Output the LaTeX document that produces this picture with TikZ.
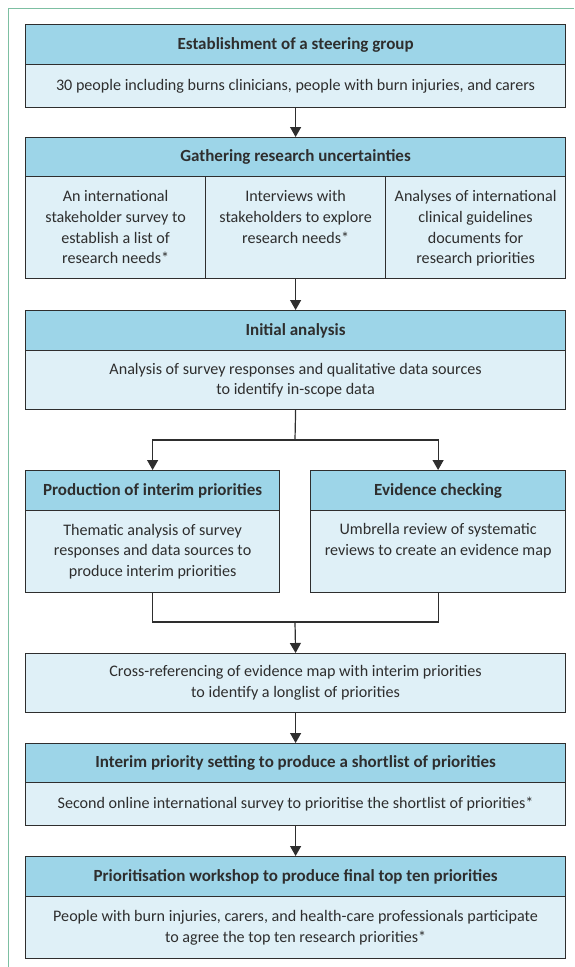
\documentclass[tikz,border=0pt]{standalone}
\usepackage{fontspec}
\setmainfont{Carlito}
\usetikzlibrary{arrows.meta}
\definecolor{hdrfill}{HTML}{9DD5E8}
\definecolor{bodyfill}{HTML}{DFF0F7}
\definecolor{edge}{HTML}{2E2E2E}
\definecolor{frame}{HTML}{7DBFA2}
\tikzset{
  boxline/.style={draw=edge, line width=1.2pt},
  hdr/.style={boxline, fill=hdrfill, anchor=north west, inner sep=0pt, font=\fontsize{17}{20.7}\selectfont\bfseries, text=edge},
  bdy/.style={boxline, fill=bodyfill, anchor=north west, inner sep=0pt},
  txt/.style={align=center, inner sep=0pt, font=\fontsize{16.1}{20.7}\selectfont, text=edge},
  conn/.style={draw=edge, line width=1.2pt},
  arr/.style={conn, -{Triangle[width=11pt,length=10pt]}},
}
\begin{document}
\begin{tikzpicture}[x=1pt,y=-1pt]
\useasboundingbox (0,0) rectangle (574,967);
\draw[frame, line width=1pt] (8.5,967) -- (8.5,8.5) -- (574,8.5);
% Box 1
\node[hdr, minimum width=540pt, minimum height=40pt] (h1) at (25,24) {Establishment of a steering group};
\node[bdy, minimum width=540pt, minimum height=43pt] (b1) at (25,64) {};
\node[txt] (t1) at (b1.center) {30 people including burns clinicians, people with burn injuries, and carers};
% Box 2
\node[hdr, minimum width=540pt, minimum height=39pt] (h2) at (25,137) {Gathering research uncertainties};
\node[bdy, minimum width=180pt, minimum height=102pt] (c1) at (25,176) {};
\node[bdy, minimum width=180pt, minimum height=102pt] (c2) at (205,176) {};
\node[bdy, minimum width=180pt, minimum height=102pt] (c3) at (385,176) {};
\node[txt, anchor=north] (t2a) at ([yshift=-14.5pt]c1.north) {An international\\stakeholder survey to\\establish a list of\\research needs*};
\node[txt, anchor=north] (t2b) at ([yshift=-14.5pt]c2.north) {Interviews with\\stakeholders to explore\\research needs*};
\node[txt, anchor=north] (t2c) at ([yshift=-14.5pt]c3.north) {Analyses of international\\clinical guidelines\\documents for\\research priorities};
% Box 3
\node[hdr, minimum width=540pt, minimum height=40pt] (h3) at (25,310) {Initial analysis};
\node[bdy, minimum width=540pt, minimum height=59pt] (b3) at (25,350) {};
\node[txt] (t3) at (b3.center) {Analysis of survey responses and qualitative data sources\\to identify in-scope data};
% Left and right boxes
\node[hdr, minimum width=254pt, minimum height=40pt] (h4) at (25,470) {Production of interim priorities};
\node[bdy, minimum width=254pt, minimum height=82pt] (b4) at (25,510) {};
\node[txt] (t4) at (b4.center) {Thematic analysis of survey\\responses and data sources to\\produce interim priorities};
\node[hdr, minimum width=255pt, minimum height=40pt] (h5) at (310,470) {Evidence checking};
\node[bdy, minimum width=255pt, minimum height=82pt] (b5) at (310,510) {};
\node[txt, anchor=north] (t5) at ([yshift=-13.5pt]b5.north) {Umbrella review of systematic\\reviews to create an evidence map};
% Cross-referencing
\node[bdy, minimum width=540pt, minimum height=59pt] (b6) at (25,653) {};
\node[txt] (t6) at (b6.center) {Cross-referencing of evidence map with interim priorities\\to identify a longlist of priorities};
% Box 7
\node[hdr, minimum width=540pt, minimum height=39pt] (h7) at (25,743) {Interim priority setting to produce a shortlist of priorities};
\node[bdy, minimum width=540pt, minimum height=43pt] (b7) at (25,782) {};
\node[txt] (t7) at (b7.center) {Second online international survey to prioritise the shortlist of priorities*};
% Box 8
\node[hdr, minimum width=540pt, minimum height=40pt] (h8) at (25,856) {Prioritisation workshop to produce final top ten priorities};
\node[bdy, minimum width=540pt, minimum height=62pt] (b8) at (25,896) {};
\node[txt] (t8) at (b8.center) {People with burn injuries, carers, and health-care professionals participate\\to agree the top ten research priorities*};
% Connectors
\draw[arr] (b1.south) -- (h2.north);
\draw[arr] (c2.south) -- (h3.north);
\coordinate (split) at (295,440);
\draw[conn] (b3.south) -- (split);
\draw[arr] (split) -| (h4.north);
\draw[arr] (split) -| (h5.north);
\coordinate (join) at (295,622);
\draw[conn] (b4.south) |- (join);
\draw[conn] (b5.south) |- (join);
\draw[arr] (join) -- (b6.north);
\draw[arr] (b6.south) -- (h7.north);
\draw[arr] (b7.south) -- (h8.north);
\end{tikzpicture}
\end{document}
